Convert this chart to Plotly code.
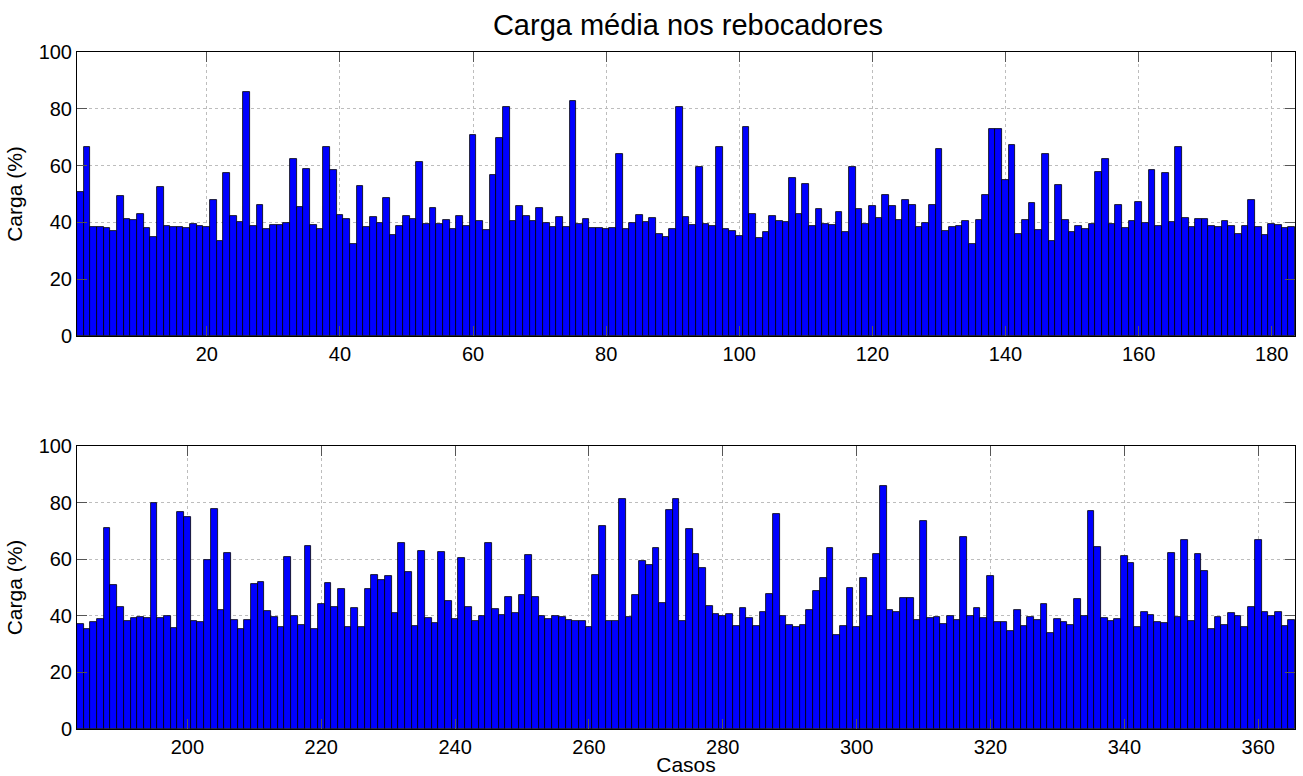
import plotly.graph_objects as go

casos_top = list(range(1, 184))
carga_top = [
    50.8, 66.7, 38.5, 38.5, 38.1, 37.1, 49.3, 41.2, 40.7, 43.1,
    37.9, 35.0, 52.3, 38.8, 38.5, 38.5, 38.0, 39.4, 38.8, 38.3,
    47.8, 33.3, 57.4, 42.4, 40.3, 85.9, 38.8, 46.0, 37.8, 39.1,
    39.1, 39.7, 62.4, 45.5, 58.7, 39.1, 37.7, 66.7, 58.3, 42.6,
    41.1, 32.4, 52.9, 38.4, 41.8, 39.7, 48.5, 35.7, 38.8, 42.4,
    41.2, 61.3, 39.4, 45.0, 39.6, 40.8, 37.7, 42.1, 38.7, 70.8,
    40.4, 37.2, 56.6, 69.6, 80.8, 40.6, 45.9, 42.4, 40.6, 45.1,
    39.8, 38.5, 42.0, 38.5, 82.9, 39.3, 41.2, 38.0, 38.1, 37.6,
    38.0, 64.0, 37.7, 39.9, 42.6, 40.3, 41.7, 36.0, 35.0, 37.6,
    80.6, 42.0, 39.2, 59.4, 39.6, 38.6, 66.4, 37.6, 37.0, 35.3,
    73.7, 42.8, 34.5, 36.6, 42.1, 40.6, 40.3, 55.5, 43.0, 53.4,
    38.6, 44.7, 39.3, 39.1, 43.8, 36.6, 59.5, 44.7, 39.6, 45.7,
    41.4, 49.8, 45.7, 40.7, 48.0, 46.2, 38.4, 39.7, 46.1, 65.7,
    37.1, 38.5, 38.8, 40.5, 32.4, 40.8, 49.5, 73.0, 73.0, 54.8,
    67.3, 36.0, 40.7, 46.7, 37.4, 64.2, 33.6, 53.2, 40.8, 36.6,
    38.8, 37.7, 39.4, 57.6, 62.4, 39.3, 46.0, 37.9, 40.6, 47.3,
    39.9, 58.5, 38.7, 57.3, 40.3, 66.7, 41.4, 38.4, 41.1, 41.1,
    38.8, 38.4, 40.4, 38.7, 36.0, 38.7, 47.9, 38.5, 35.6, 39.3,
    39.0, 38.0, 38.5,
]

casos_bottom = list(range(184, 366))
carga_bottom = [
    37.1, 35.4, 37.8, 38.9, 70.9, 50.9, 43.1, 38.2, 39.2, 39.6,
    39.2, 80.0, 39.3, 40.1, 35.6, 76.8, 74.8, 38.0, 37.8, 59.6,
    77.6, 42.2, 62.2, 38.5, 35.5, 38.5, 51.4, 51.9, 41.6, 39.4,
    35.9, 60.7, 39.8, 36.6, 64.5, 35.4, 44.2, 51.5, 43.1, 49.6,
    35.9, 42.7, 36.2, 49.6, 54.4, 52.5, 54.2, 40.9, 65.6, 55.3,
    36.5, 62.8, 39.1, 37.6, 62.5, 45.3, 38.8, 60.6, 43.1, 38.1,
    40.0, 65.8, 42.5, 40.4, 46.7, 41.1, 47.4, 61.6, 46.5, 39.9,
    38.9, 40.0, 39.4, 38.5, 38.2, 38.1, 36.2, 54.5, 71.9, 38.2,
    38.2, 81.1, 39.6, 47.4, 59.3, 58.0, 63.8, 44.5, 77.3, 81.4,
    38.1, 70.7, 61.9, 56.8, 43.5, 40.7, 40.1, 40.8, 36.4, 42.9,
    39.1, 36.5, 41.2, 47.8, 75.8, 39.9, 36.9, 36.0, 36.8, 41.9,
    48.7, 53.3, 64.1, 33.2, 36.5, 49.8, 36.1, 53.4, 39.9, 61.9,
    86.0, 41.9, 41.2, 46.2, 46.2, 38.6, 73.6, 39.2, 39.5, 37.2,
    40.0, 38.4, 67.9, 40.0, 42.8, 39.1, 54.2, 37.9, 37.9, 34.6,
    42.1, 36.5, 39.4, 38.5, 44.2, 33.9, 38.7, 37.9, 36.6, 45.9,
    39.9, 77.2, 64.4, 39.1, 38.2, 38.9, 61.1, 58.8, 36.1, 41.5,
    40.2, 37.9, 37.3, 62.2, 39.4, 66.8, 38.0, 61.8, 55.8, 35.2,
    39.4, 36.8, 40.9, 40.1, 36.2, 43.2, 66.8, 41.5, 39.8, 41.5,
    36.5, 38.5,
]

ticks_top = [20, 40, 60, 80, 100, 120, 140, 160, 180]
ticks_bottom = [200, 220, 240, 260, 280, 300, 320, 340, 360]
ticks_y = [0, 20, 40, 60, 80, 100]

FONT = "Liberation Sans, Arial, sans-serif"
bar_style = dict(marker=dict(color="#0000FF", line=dict(color="#000000", width=0.8)),
                 width=1.0, showlegend=False, hoverinfo="x+y")

fig = go.Figure()
fig.add_trace(go.Bar(x=casos_top, y=carga_top, xaxis="x", yaxis="y", **bar_style))
fig.add_trace(go.Bar(x=casos_bottom, y=carga_bottom, xaxis="x2", yaxis="y2", **bar_style))

axis_common = dict(
    showline=True, linecolor="#000000", linewidth=1, mirror="ticks",
    ticks="inside", ticklen=10, tickcolor="#555555", tickwidth=1,
    showgrid=True, gridcolor="#bdbdbd", griddash="dot", gridwidth=1,
    zeroline=False, automargin=False,
    tickfont=dict(family=FONT, size=20, color="#000000"),
)

fig.update_layout(
    width=1303, height=776,
    margin=dict(l=77, r=8, t=52, b=47),
    paper_bgcolor="white", plot_bgcolor="white",
    bargap=0,
    title=dict(text="Carga média nos rebocadores", x=0.528, xanchor="center",
               y=1 - 25 / 776, yref="container", yanchor="middle",
               font=dict(family=FONT, size=29, color="#000000")),
    xaxis=dict(domain=[0, 1], anchor="y", range=[0.5, 183.5], tickvals=ticks_top, **axis_common),
    yaxis=dict(domain=[0.5805, 1], anchor="x", range=[0, 100], tickvals=ticks_y,
               title=dict(text="Carga (%)", font=dict(family=FONT, size=21, color="#000000"), standoff=10),
               **axis_common),
    xaxis2=dict(domain=[0, 1], anchor="y2", range=[183.5, 365.5], tickvals=ticks_bottom,
                title=dict(text="Casos", font=dict(family=FONT, size=21, color="#000000"), standoff=2),
                **axis_common),
    yaxis2=dict(domain=[0, 0.418], anchor="x2", range=[0, 100], tickvals=ticks_y,
                title=dict(text="Carga (%)", font=dict(family=FONT, size=21, color="#000000"), standoff=10),
                **axis_common),
)

fig.write_html("out.html")
